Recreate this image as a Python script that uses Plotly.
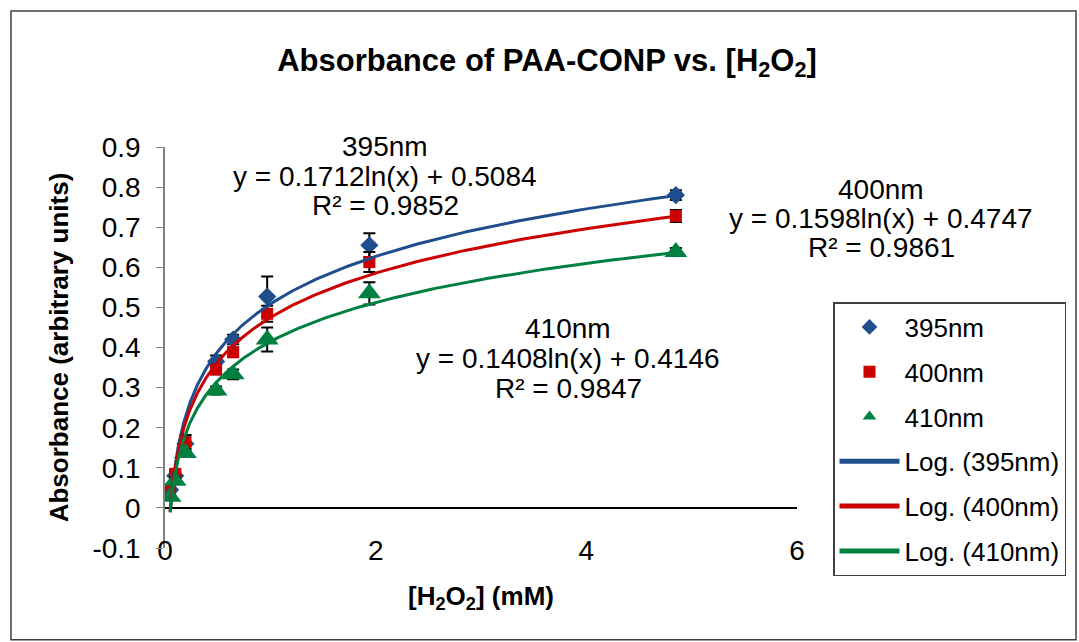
import numpy as np
import plotly.graph_objects as go

# H2O2 concentration (mM)
conc = [0.0485, 0.097, 0.194, 0.485, 0.647, 0.97, 1.94, 4.85]

# absorbance readings per wavelength
abs_395 = [0.045, 0.080, 0.160, 0.365, 0.420, 0.527, 0.655, 0.780]
abs_400 = [0.045, 0.085, 0.162, 0.345, 0.388, 0.484, 0.613, 0.728]
abs_410 = [0.028, 0.068, 0.137, 0.293, 0.333, 0.420, 0.535, 0.638]

err_395 = [0.005, 0.010, 0.020, 0.015, 0.012, 0.050, 0.030, 0.012]
err_400 = [0.005, 0.010, 0.020, 0.012, 0.012, 0.020, 0.025, 0.015]
err_410 = [0.005, 0.008, 0.010, 0.010, 0.012, 0.030, 0.028, 0.010]

# log trendline coefficients as printed on the chart: y = a ln(x) + b
fit_a = [0.1712, 0.1598, 0.1408]
fit_b = [0.5084, 0.4747, 0.4146]
fit_r2 = [0.9852, 0.9861, 0.9847]

names = ["395nm", "400nm", "410nm"]

# y axis tick labels (excel style, plain hyphen)
ytick_vals = [-0.1, 0, 0.1, 0.2, 0.3, 0.4, 0.5, 0.6, 0.7, 0.8, 0.9]
ytick_text = ["-0.1", "0", "0.1", "0.2", "0.3", "0.4", "0.5", "0.6", "0.7", "0.8", "0.9"]

colors = ["#1F4E8C", "#CC0000", "#008040"]
symbols = ["diamond", "square", "triangle-up"]
msizes = [14, 12, 20]

FONT = "Liberation Sans, Arial, sans-serif"

fig = go.Figure()

ys = [abs_395, abs_400, abs_410]
errs = [err_395, err_400, err_410]
for i in range(3):
  fig.add_trace(go.Scatter(
    x=conc, y=ys[i], mode="markers", name=names[i],
    legendgroup="g%d" % i,
    marker=dict(symbol=symbols[i], color=colors[i], size=msizes[i]),
    error_y=dict(type="data", array=errs[i], color="black", thickness=2, width=6),
  ))

xs = np.logspace(np.log10(min(conc)), np.log10(max(conc)), 300)
for i in range(3):
  fig.add_trace(go.Scatter(
    x=xs, y=fit_a[i] * np.log(xs) + fit_b[i], mode="lines",
    name="Log. (%s)" % names[i], legendgroup="l%d" % i,
    line=dict(color=colors[i], width=3),
  ))

# trendline labels, one annotation per line, placed in paper coords
# (pixel centres in the 632x401 plot box)
label_px = [385, 881, 568]
label_py = [[146, 176, 205], [189, 218, 247], [328, 358, 388]]
for i in range(3):
  lines = [names[i],
           "y = %.4fln(x) + %.4f" % (fit_a[i], fit_b[i]),
           "R² = %.4f" % fit_r2[i]]
  for j in range(3):
    fig.add_annotation(
      x=(label_px[i] - 165) / 632, y=(548 - label_py[i][j]) / 401,
      xref="paper", yref="paper",
      text=lines[j], showarrow=False,
      font=dict(family=FONT, size=28, color="black"),
      xanchor="center", yanchor="middle",
    )

# outer chart frame
fig.add_shape(type="rect", xref="paper", yref="paper",
              x0=-0.2437, x1=1.4415, y0=-0.229, y1=1.339,
              line=dict(color="#404040", width=1.5), layer="below")

fig.update_layout(
  width=1079, height=642,
  margin=dict(l=165, r=282, t=147, b=94),
  paper_bgcolor="white", plot_bgcolor="white",
  font=dict(family=FONT, color="black"),
  title=dict(text="<b>Absorbance of PAA-CONP vs. [H<sub>2</sub>O<sub>2</sub>]</b>",
             x=547 / 1079, xref="container", xanchor="center",
             y=1 - 60 / 642, yanchor="middle",
             font=dict(size=31, family=FONT)),
  xaxis=dict(range=[0, 6], dtick=2, showgrid=False, zeroline=False,
             showline=False, ticks="", ticklabelstandoff=-17,
             tickfont=dict(size=28, family=FONT),
             title=dict(text="<b>[H<sub>2</sub>O<sub>2</sub>] (mM)</b>",
                        font=dict(size=26, family=FONT), standoff=21)),
  yaxis=dict(range=[-0.1, 0.9], tickvals=ytick_vals, ticktext=ytick_text,
             showgrid=False,
             zeroline=True, zerolinecolor="black", zerolinewidth=1.5,
             showline=True, linecolor="#808080", linewidth=1.5,
             ticks="outside", ticklen=7, tickcolor="#808080",
             ticklabelstandoff=10,
             tickfont=dict(size=28, family=FONT),
             title=dict(text="<b>Absorbance (arbitrary units)</b>",
                        font=dict(size=26, family=FONT), standoff=16)),
  legend=dict(x=(833 - 165) / 632, y=(548 - 302) / 401, xanchor="left", yanchor="top",
              bordercolor="#404040", borderwidth=1.5, bgcolor="white",
              font=dict(size=26, family=FONT), tracegroupgap=8,
              traceorder="grouped", itemwidth=60, itemsizing="constant"),
  showlegend=True,
)

fig.write_html("out.html", config={"displayModeBar": False},
               post_script="document.body.style.margin='0';")
